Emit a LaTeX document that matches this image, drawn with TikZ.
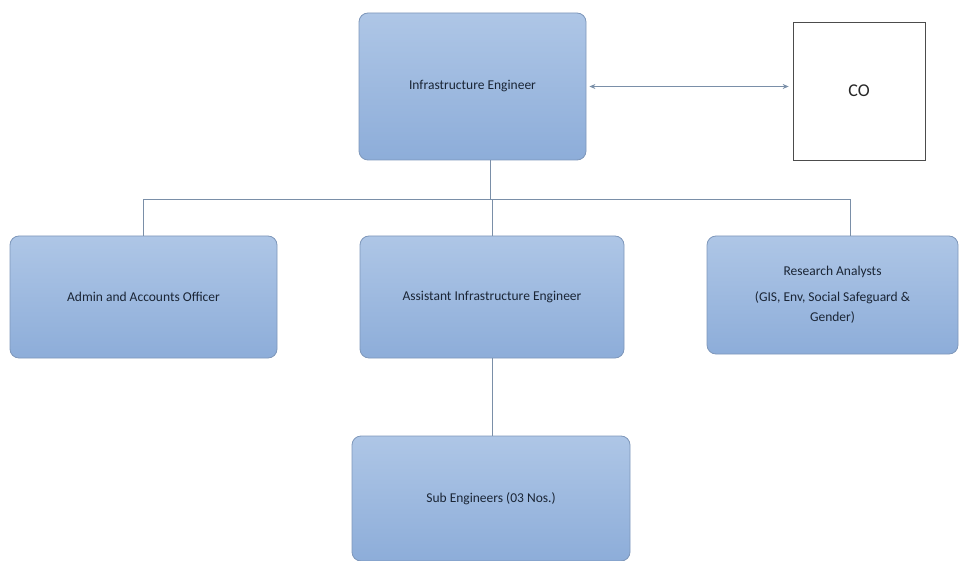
\documentclass[tikz,border=0pt]{standalone}
\usepackage{fontspec}
\setmainfont{Carlito}
\usetikzlibrary{arrows.meta}
\definecolor{boxtop}{HTML}{AEC6E6}
\definecolor{boxbot}{HTML}{8DADD9}
\definecolor{boxedge}{HTML}{7E97BA}
\definecolor{linec}{HTML}{7A8FA8}
\definecolor{txt}{HTML}{1A2535}
\tikzset{
  rolebox/.style={draw=boxedge, line width=0.8pt, rounded corners=9pt,
    top color=boxtop, bottom color=boxbot, text=txt, align=center,
    font=\fontsize{13.5}{20}\selectfont, inner sep=0pt},
  conn/.style={draw=linec, line width=0.9pt},
}
\begin{document}
\begin{tikzpicture}[x=1pt,y=-1pt]
\useasboundingbox (0,0) rectangle (960,561);
\node[rolebox, minimum width=227pt, minimum height=147pt] (ie) at (472.5,86.5) {Infrastructure Engineer};
\node[draw=black!70, line width=0.7pt, minimum width=132pt, minimum height=138pt, font=\fontsize{18}{20}\selectfont, text=black!85] (co) at (859,91) {CO};
\node[rolebox, minimum width=267pt, minimum height=122pt] (admin) at (143.5,297) {Admin and Accounts Officer};
\node[rolebox, minimum width=264pt, minimum height=122pt] (asst) at (492,297) {Assistant Infrastructure Engineer};
\node[rolebox, minimum width=251pt, minimum height=118pt] (ra) at (832.5,295) {Research Analysts\\[6pt](GIS, Env, Social Safeguard \&\\Gender)};
\node[rolebox, minimum width=278pt, minimum height=125pt] (sub) at (491,498.5) {Sub Engineers (03 Nos.)};
\coordinate (bus) at (490,199);
\draw[conn] (ie.south -| bus) -- (bus);
\draw[conn] (admin.north) |- (bus);
\draw[conn] (ra.north -| 850,0) |- (bus);
\draw[conn] (asst.north) -- (asst.north |- bus);
\draw[conn] (asst.south) -- (sub.north -| asst.south);
\draw[conn, {Stealth[length=6pt,width=5pt]}-{Stealth[length=6pt,width=5pt]}] ([xshift=3pt]ie.east) -- ([xshift=-4pt]ie.east -| co.west);
\end{tikzpicture}
\end{document}
